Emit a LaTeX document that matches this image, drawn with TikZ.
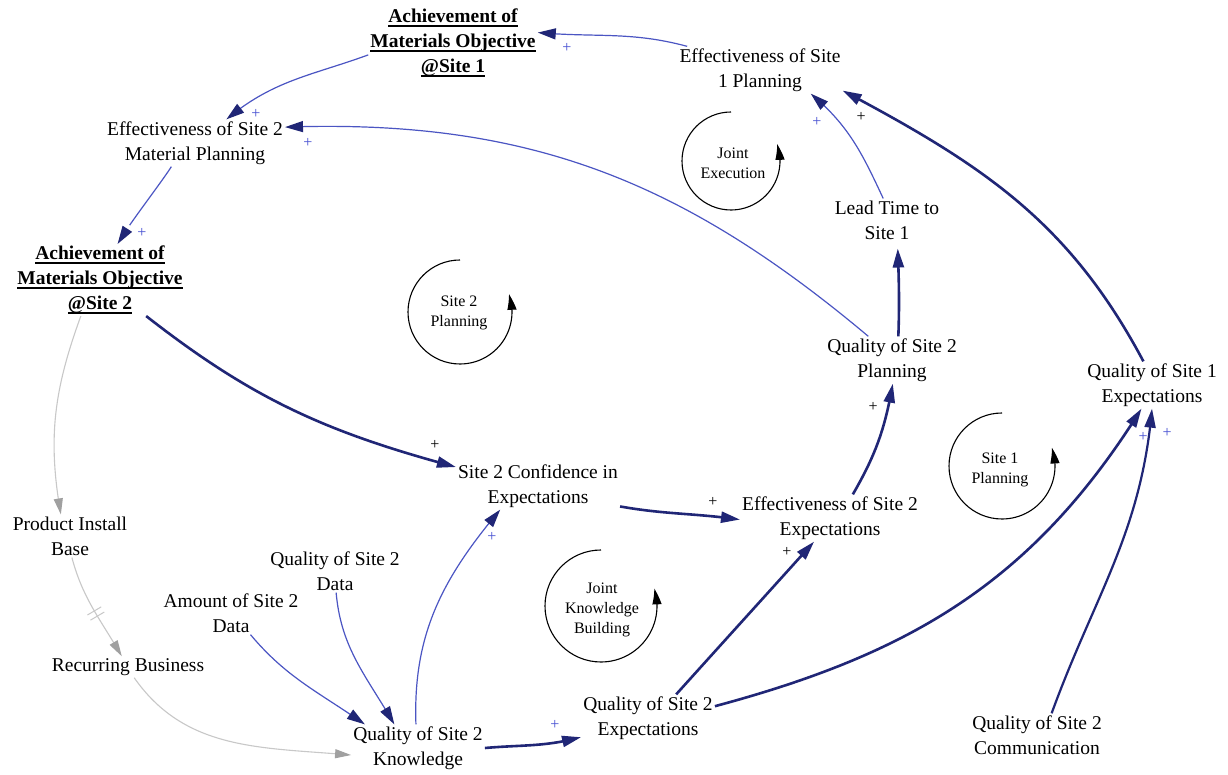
\documentclass[tikz,border=0pt]{standalone}
\usepackage{fontspec}
\setmainfont{Liberation Serif}
\usetikzlibrary{arrows.meta,bending,decorations.markings}
\definecolor{navy}{RGB}{32,38,118}
\definecolor{linkblue}{RGB}{75,85,195}
\definecolor{plusblue}{RGB}{70,80,210}
\definecolor{lgray}{RGB}{200,200,200}
\definecolor{mgray}{RGB}{160,160,160}
\newcommand{\myul}[1]{{\setbox0=\hbox{#1}\rlap{\rule[-4pt]{\wd0}{1.5pt}}\box0}}
\begin{document}
\begin{tikzpicture}[x=1pt,y=1pt,
  var/.style={align=center, font=\fontsize{19.5}{25}\selectfont, inner sep=2pt},
  boldvar/.style={align=center, font=\fontsize{19.5}{25}\selectfont\bfseries, inner sep=2pt},
  looptext/.style={align=center, font=\fontsize{16}{20}\selectfont, inner sep=1pt},
  lnk/.style={draw=linkblue, line width=1.2pt, -{Triangle[length=18pt,width=11pt,color=navy]}},
  thk/.style={draw=navy, line width=2.6pt, -{Triangle[length=19pt,width=11pt,color=navy]}},
  gry/.style={draw=lgray, line width=1.1pt, -{Triangle[length=16pt,width=9pt,color=mgray]}},
  lp/.style={draw=black, line width=1.1pt, -{Triangle[length=16pt,width=9pt,bend]}},
  plb/.style={font=\fontsize{16}{16}\selectfont, text=plusblue, inner sep=0pt},
  plk/.style={font=\fontsize{16}{16}\selectfont, text=black, inner sep=0pt}
]
\useasboundingbox (0,0) rectangle (1228,774);
\fill[white] (0,0) rectangle (1228,774);

% variables
\node[boldvar] (ach1) at (453,731) {\myul{Achievement of}\\\myul{Materials Objective}\\\myul{@Site 1}};
\node[var] (effs1) at (760,704) {Effectiveness of Site\\1 Planning};
\node[var] (effs2mp) at (195,631) {Effectiveness of Site 2\\Material Planning};
\node[boldvar] (ach2) at (100,494) {\myul{Achievement of}\\\myul{Materials Objective}\\\myul{@Site 2}};
\node[var] (lead) at (887,554) {Lead Time to\\Site 1};
\node[var] (qs2plan) at (892,414) {Quality of Site 2\\Planning};
\node[var] (qs1exp) at (1152,389) {Quality of Site 1\\Expectations};
\node[var] (conf) at (538,288) {Site 2 Confidence in\\Expectations};
\node[var] (effs2exp) at (830,256) {Effectiveness of Site 2\\Expectations};
\node[var] (pib) at (70,238) {Product Install\\Base};
\node[var] (qs2data) at (335,203) {Quality of Site 2\\Data};
\node[var] (amount) at (231,161) {Amount of Site 2\\Data};
\node[var] (rec) at (128,107) {Recurring Business};
\node[var] (qs2k) at (418,26) {Quality of Site 2\\Knowledge};
\node[var] (qs2exp) at (648,56) {Quality of Site 2\\Expectations};
\node[var] (qs2comm) at (1037,39) {Quality of Site 2\\Communication};

% loops
\coordinate (je) at (731,613);
\coordinate (s2p) at (460,462);
\coordinate (s1p) at (1002,308);
\coordinate (jkb) at (601,168);
\node[looptext] (jeT) at (733,611) {Joint\\Execution};
\node[looptext] (s2pT) at (459,461) {Site 2\\Planning};
\node[looptext] (s1pT) at (1000,304) {Site 1\\Planning};
\node[looptext] (jkbT) at (602,164) {Joint\\Knowledge\\Building};
\draw[lp] (je) ++(90:49pt) arc[start angle=90, end angle=380, radius=49pt];
\draw[lp] (s2p) ++(90:52pt) arc[start angle=90, end angle=380, radius=52pt];
\draw[lp] (s1p) ++(90:53pt) arc[start angle=90, end angle=380, radius=53pt];
\draw[lp] (jkb) ++(90:56pt) arc[start angle=90, end angle=378, radius=56pt];

% thin links
\draw[lnk] (effs1.162) to[out=165,in=-5] (ach1.7);
\draw[lnk] (ach1.188) to[out=200,in=40] (effs2mp.37);
\draw[lnk] (effs2mp.225) to[out=238,in=62,looseness=0.5] (ach2.64);
\draw[lnk] (qs2plan.135) to[out=140,in=2] (effs2mp.10);
\draw[lnk] (lead.100) to[out=115,in=-40] (effs1.-25);
\draw[lnk] (qs2data.-87) to[out=-85,in=120] (qs2k.135);
\draw[lnk] (amount.-48) to[out=-50,in=145] (qs2k.156);
\draw[lnk] (qs2k.95) to[out=92,in=-130] (conf.212);

% thick links
\draw[thk] (ach2.-38) to[out=-38,in=165] (conf.167);
\draw[thk] (conf.-14) to[out=-10,in=172] (effs2exp.181);
\draw[thk] (effs2exp.46) to[out=60,in=-100] (qs2plan.-88);
\draw[thk, shorten >=7pt] (qs2plan.75) to[out=88,in=-88] (lead.-64);
\draw[thk] (qs1exp.110) to[out=118,in=-28] (effs1.-14);
\draw[thk] (qs2k.0) to[out=5,in=195] (qs2exp.196);
\draw[thk] (qs2exp.40) to[out=48,in=-132] (effs2exp.-124);
\draw[thk] (qs2exp.10) to[out=15,in=-122] (qs1exp.-114);
\draw[thk, line width=2.2pt] (qs2comm.56) to[out=70,in=-95] (qs1exp.-90);

% gray links
\draw[gry] (ach2.-118) to[out=250,in=100] (pib.113);
\draw[gry, postaction={decorate}, decoration={markings, mark=at position 0.55 with {\draw[-, draw=lgray, line width=1pt] (-3pt,-8pt)--(-3pt,8pt) (3pt,-8pt)--(3pt,8pt);}}] (pib.-85) to[out=-75,in=120] (rec.120);
\draw[gry] (rec.-60) to[out=-55,in=175] (qs2k.186);

% polarity signs
\node[plb] (p1) at (567,726) {+};
\node[plb] (p2) at (256,660) {+};
\node[plb] (p3) at (308,631) {+};
\node[plb] (p4) at (142,541) {+};
\node[plk] (p5) at (435,329) {+};
\node[plk] (p6) at (713,272) {+};
\node[plk] (p7) at (873,367) {+};
\node[plb] (p8) at (817,652) {+};
\node[plk] (p9) at (861,657) {+};
\node[plb] (p10) at (492,237) {+};
\node[plb] (p11) at (555,49) {+};
\node[plk] (p12) at (787,222) {+};
\node[plb] (p13) at (1143,337) {+};
\node[plb] (p14) at (1167,341) {+};
\end{tikzpicture}
\end{document}
